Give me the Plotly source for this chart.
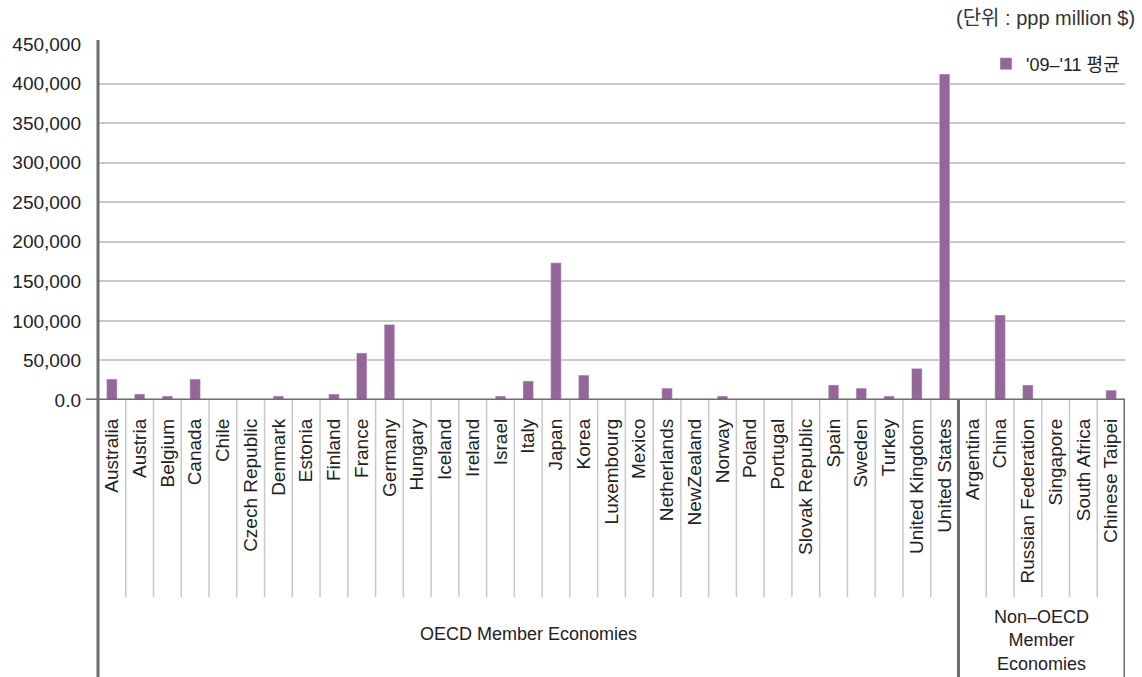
import plotly.graph_objects as go

oecd = ["Australia", "Austria", "Belgium", "Canada", "Chile", "Czech Republic", "Denmark",
        "Estonia", "Finland", "France", "Germany", "Hungary", "Iceland", "Ireland", "Israel",
        "Italy", "Japan", "Korea", "Luxembourg", "Mexico", "Netherlands", "NewZealand",
        "Norway", "Poland", "Portugal", "Slovak Republic", "Spain", "Sweden", "Turkey",
        "United Kingdom", "United States"]
non_oecd = ["Argentina", "China", "Russian Federation", "Singapore", "South Africa", "Chinese Taipei"]

oecd_vals = [26500, 7600, 5000, 26500, 300, 500, 5000,
             200, 7500, 59500, 95500, 400, 100, 500, 5000,
             24000, 173500, 31500, 300, 500, 15000, 300,
             5000, 500, 500, 300, 19000, 15000, 5000,
             40000, 412000]
non_oecd_vals = [500, 107500, 19000, 500, 500, 12500]

categories = oecd + non_oecd
values = oecd_vals + non_oecd_vals

y_tickvals = [0, 50000, 100000, 150000, 200000, 250000, 300000, 350000, 400000, 450000]
y_ticktext = ["0.0", "50,000", "100,000", "150,000", "200,000", "250,000",
              "300,000", "350,000", "400,000", "450,000"]

series_name = "'09–'11 평균"
unit_label = "(단위 : ppp million $)"
group_labels = ["OECD Member Economies", "Non–OECD<br>Member<br>Economies"]

BAR = "#96659a"
AXIS = "#6d6d6f"
GRID = "#c8c8c8"
FONT = "Liberation Sans, Arial, Noto Sans CJK KR"

W, H = 1142, 677
L, R, T, B = 98, 17, 44, 277
plot_h = H - T - B
plot_w = W - L - R

def py(px_from_top):
    return (H - B - px_from_top) / plot_h

def px(px_from_left):
    return (px_from_left - L) / plot_w

x_idx = list(range(len(categories)))
n_oecd = len(oecd)

fig = go.Figure()
fig.add_trace(go.Bar(
    x=x_idx, y=values, name=series_name, marker_color=BAR,
    showlegend=True,
))

shapes = []
bottom = py(H + 2)
tick_bottom = py(597)
for i in range(len(categories)):
    xb = i + 0.5
    if i == n_oecd - 1 or i == len(categories) - 1:
        shapes.append(dict(type="line", xref="x", yref="paper", x0=xb, x1=xb,
                           y0=0, y1=bottom, line=dict(color=AXIS, width=3)))
    else:
        shapes.append(dict(type="line", xref="x", yref="paper", x0=xb, x1=xb,
                           y0=0, y1=tick_bottom, line=dict(color=GRID, width=1.5)))
# y axis line extended down to the bottom
shapes.append(dict(type="line", xref="paper", yref="paper", x0=0, x1=0,
                   y0=py(40), y1=bottom, line=dict(color=AXIS, width=3)))
# x axis line at zero
shapes.append(dict(type="line", xref="paper", yref="y", x0=px(86), x1=1,
                   y0=0, y1=0, line=dict(color=AXIS, width=3)))

annotations = [
    dict(text=unit_label, xref="paper", yref="paper", x=px(1137),
         y=py(18), xanchor="right", yanchor="middle", showarrow=False,
         font=dict(size=20, color="#333", family=FONT)),
    dict(text=group_labels[0], xref="x", yref="paper", x=(n_oecd - 1) / 2,
         y=py(634), xanchor="center", yanchor="middle", showarrow=False,
         font=dict(size=18, color="#222", family=FONT)),
    dict(text=group_labels[1], xref="x", yref="paper",
         x=(n_oecd + len(categories) - 1) / 2, y=py(640), xanchor="center",
         yanchor="middle", showarrow=False,
         font=dict(size=18, color="#222", family=FONT)),
]

fig.update_layout(
    width=W, height=H,
    margin=dict(l=L, r=R, t=T, b=B, autoexpand=False),
    paper_bgcolor="white", plot_bgcolor="white",
    font=dict(family=FONT, color="#333", size=19),
    bargap=0.62,
    shapes=shapes,
    annotations=annotations,
    legend=dict(x=1, xanchor="right", y=py(64), yanchor="middle",
                bgcolor="rgba(0,0,0,0)", font=dict(size=18, color="#222"),
                itemwidth=30),
    xaxis=dict(
        tickmode="array", tickvals=x_idx, ticktext=categories, tickangle=-90,
        range=[-0.5, len(categories) - 0.5], showgrid=False, zeroline=False,
        showline=False, ticks="", ticklabelstandoff=14, automargin=False,
        tickfont=dict(size=19, color="#222"),
    ),
    yaxis=dict(
        range=[0, 450000], tickvals=y_tickvals, ticktext=y_ticktext,
        showgrid=True, gridcolor=GRID, gridwidth=1.5, zeroline=False,
        showline=False, ticks="", ticklabelstandoff=16, automargin=False,
        tickfont=dict(size=19, color="#222"),
    ),
)

fig.write_html("out.html", config={"displayModeBar": False},
               post_script="document.body.style.margin='0';document.body.style.overflow='hidden';")
